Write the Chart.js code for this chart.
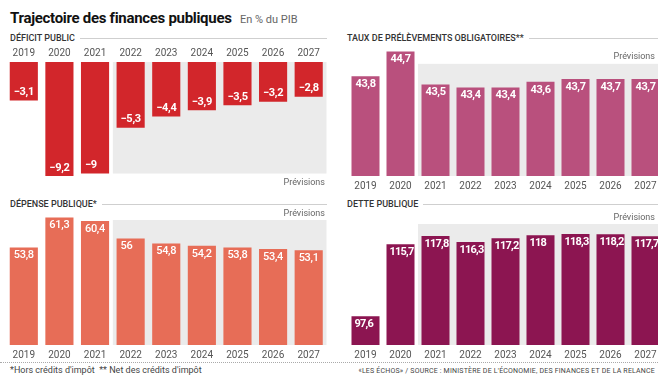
<!DOCTYPE html>
<html>
<head>
<meta charset="utf-8">
<script src="https://cdn.jsdelivr.net/npm/chart.js@4.4.0/dist/chart.umd.min.js"></script>
<style>
  html, body { margin: 0; padding: 0; }
  body { width: 658px; height: 376px; position: relative; overflow: hidden; background: #fff; font-family: Roboto, sans-serif; color: #222; }
  .abs { position: absolute; white-space: nowrap; }
  .title { left: 10px; top: 9px; font-size: 15px; font-weight: 700; letter-spacing: -0.3px; color: #111; }
  .sub { left: 240px; top: 13px; font-size: 11px; color: #666; }
  .head { display: flex; align-items: center; font-size: 9px; font-weight: 500; color: #333; height: 12px; }
  .head .line { flex: 1; height: 1px; background: #cfcfcf; margin-left: 5px; }
  .prev { font-size: 9px; color: #666; text-align: right; }
  canvas { position: absolute; }
  .dots { left: 0; top: 362px; width: 658px; border-top: 1px dotted #aaa; }
  .note { left: 10px; top: 365px; font-size: 9px; color: #444; }
  .src { right: 3px; top: 367px; font-size: 7px; letter-spacing: 0.2px; color: #444; }
</style>
</head>
<body>
<div class="abs title">Trajectoire des finances publiques</div>
<div class="abs sub">En % du PIB</div>

<div class="abs head" style="left:10px; top:32px; width:317px;"><span>DÉFICIT PUBLIC</span><div class="line"></div></div>
<div class="abs head" style="left:347px; top:32px; width:311px;"><span>TAUX DE PRÉLÈVEMENTS OBLIGATOIRES**</span><div class="line"></div></div>
<div class="abs head" style="left:10px; top:198px; width:317px;"><span>DÉPENSE PUBLIQUE*</span><div class="line"></div></div>
<div class="abs head" style="left:347px; top:198px; width:311px;"><span>DETTE PUBLIQUE</span><div class="line"></div></div>

<canvas id="deficitChart" style="left:0; top:44px;" width="332" height="134"></canvas>
<canvas id="prelevChart" style="left:348px; top:50px;" width="315" height="142"></canvas>
<canvas id="depenseChart" style="left:0; top:215px;" width="332" height="146"></canvas>
<canvas id="detteChart" style="left:348px; top:222px;" width="315" height="139"></canvas>

<div class="abs prev" style="right:333px; top:177px;">Prévisions</div>
<div class="abs prev" style="right:3px; top:51px;">Prévisions</div>
<div class="abs prev" style="right:333px; top:208px;">Prévisions</div>
<div class="abs prev" style="right:3px; top:212px;">Prévisions</div>

<div class="abs dots"></div>
<div class="abs note">*Hors crédits d'impôt &nbsp;** Net des crédits d'impôt</div>
<div class="abs src">«LES ÉCHOS» / SOURCE : MINISTÈRE DE L'ÉCONOMIE, DES FINANCES ET DE LA RELANCE</div>

<script>
const years = ['2019', '2020', '2021', '2022', '2023', '2024', '2025', '2026', '2027'];
const deficitValues = [-3.1, -9.2, -9, -5.3, -4.4, -3.9, -3.5, -3.2, -2.8];
const prelevementsValues = [43.8, 44.7, 43.5, 43.4, 43.4, 43.6, 43.7, 43.7, 43.7];
const depenseValues = [53.8, 61.3, 60.4, 56, 54.8, 54.2, 53.8, 53.4, 53.1];
const detteValues = [97.6, 115.7, 117.8, 116.3, 117.2, 118, 118.3, 118.2, 117.7];

// format like the paper: comma decimals, real minus sign
const fmt = v => String(v).replace('.', ',').replace('-', '\u2212');

// grey "Prévisions" band behind the bars
const forecastBand = {
  id: 'forecastBand',
  beforeDatasetsDraw(chart, args, opts) {
    const { ctx, chartArea, scales } = chart;
    const x = (scales.x.getPixelForValue(opts.from - 1) + scales.x.getPixelForValue(opts.from)) / 2;
    const yTop = opts.top !== undefined ? scales.y.getPixelForValue(opts.top) : chartArea.top;
    const yBottom = opts.bottom !== undefined ? scales.y.getPixelForValue(opts.bottom) : chartArea.bottom;
    ctx.save();
    ctx.fillStyle = '#ebebeb';
    ctx.fillRect(x, yTop, chartArea.right - x, yBottom - yTop);
    ctx.restore();
  }
};

// value written inside the end of each bar
const barValues = {
  id: 'barValues',
  afterDatasetsDraw(chart, args, opts) {
    const { ctx } = chart;
    const meta = chart.getDatasetMeta(0);
    const data = chart.data.datasets[0].data;
    ctx.save();
    ctx.fillStyle = '#fff';
    ctx.font = (opts.weight || 'bold') + ' 11px Roboto';
    ctx.letterSpacing = opts.spacing || '0px';
    ctx.textAlign = 'left';
    ctx.textBaseline = 'middle';
    meta.data.forEach((bar, i) => {
      const v = data[i];
      const y = v < 0 ? bar.y - 8 : bar.y + 8;
      ctx.fillText(fmt(v), bar.x - bar.width / 2 + (opts.inset || 4), y);
    });
    ctx.restore();
  }
};

function makeBarChart(id, values, color, o) {
  const ctx = document.getElementById(id);
  return new Chart(ctx, {
    type: 'bar',
    data: {
      labels: years,
      datasets: [{
        data: values,
        backgroundColor: color,
        barPercentage: o.barPct,
        categoryPercentage: 1
      }]
    },
    options: {
      responsive: false,
      animation: false,
      events: [],
      layout: { padding: o.padding },
      plugins: {
        legend: { display: false },
        tooltip: { enabled: false },
        forecastBand: o.band,
        barValues: { weight: o.weight, spacing: o.spacing, inset: o.inset }
      },
      scales: {
        x: {
          position: o.axisPos,
          grid: { display: false, drawTicks: false },
          border: { display: false },
          ticks: { color: '#555', font: { family: 'Roboto', size: 10 }, padding: o.tickPad, maxRotation: 0 },
          afterFit: s => { s.height = o.axisH; }
        },
        y: {
          display: false,
          min: o.min,
          max: o.max
        }
      }
    },
    plugins: [forecastBand, barValues]
  });
}

makeBarChart('deficitChart', deficitValues, '#d2262b', {
  barPct: 0.79, axisPos: 'top', axisH: 18, tickPad: 3, spacing: '-0.3px',
  min: -9.2, max: 0, padding: { left: 6, right: 5.5, top: 0, bottom: 2 },
  band: { from: 3, bottom: -9 }
});

makeBarChart('prelevChart', prelevementsValues, '#b9507d', {
  barPct: 0.8, axisPos: 'bottom', axisH: 16, tickPad: 4, spacing: '-0.4px',
  min: 40.2, max: 44.75, padding: { left: 0, right: 0, top: 0, bottom: 0 },
  band: { from: 2, top: 44.25 }
});

makeBarChart('depenseChart', depenseValues, '#e76d57', {
  barPct: 0.79, axisPos: 'bottom', axisH: 16, tickPad: 4, weight: '500', spacing: '-0.3px',
  min: 29.4, max: 61.9, padding: { left: 6, right: 5.5, top: 0, bottom: 0 },
  band: { from: 3, top: 60.65 }
});

makeBarChart('detteChart', detteValues, '#8c1551', {
  barPct: 0.8, axisPos: 'bottom', axisH: 16, tickPad: 4, spacing: '-0.8px', inset: 3,
  min: 90.4, max: 121.3, padding: { left: 0, right: 0, top: 0, bottom: 0 },
  band: { from: 2, top: 120.8 }
});
</script>
</body>
</html>
